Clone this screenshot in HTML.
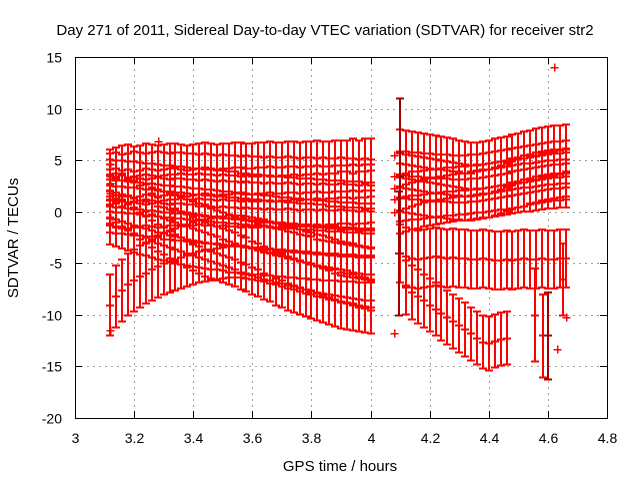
<!DOCTYPE html>
<html><head><meta charset="utf-8"><style>
body{margin:0;background:#fff}
svg{display:block;font-family:"Liberation Sans",sans-serif}
#marks line{shape-rendering:crispEdges}
#grid line,#ticks line{shape-rendering:crispEdges}
</style></head><body>
<svg id="chart" width="640" height="480" viewBox="0 0 640 480" xmlns="http://www.w3.org/2000/svg">
<rect x="0" y="0" width="640" height="480" fill="#fff"/>
<text x="325" y="35" font-size="15" text-anchor="middle">Day 271 of 2011, Sidereal Day-to-day VTEC variation (SDTVAR) for receiver str2</text>
<text x="340" y="471" font-size="15" text-anchor="middle">GPS time / hours</text>
<text x="18" y="238" font-size="15" text-anchor="middle" transform="rotate(-90 18 238)">SDTVAR / TECUs</text>
<g id="grid"></g>
<g id="marks"></g>
<rect x="75.5" y="57.5" width="532" height="361" fill="none" stroke="#000" stroke-width="1" shape-rendering="crispEdges"/>
<g id="ticks"></g>
</svg>
<script>
const xTicks=[3,3.2,3.4,3.6,3.8,4,4.2,4.4,4.6,4.8];
const xTickLabels=["3","3.2","3.4","3.6","3.8","4","4.2","4.4","4.6","4.8"];
const yTicks=[15,10,5,0,-5,-10,-15,-20];
const yTickLabels=["15","10","5","0","-5","-10","-15","-20"];

const leftStart=3.12, step=0.02;
const s1=[3.6,3.8,4.0,4.1,3.9,4.0,4.2,4.1,4.0,4.1,4.2,4.2,4.1,4.0,4.1,4.2,4.3,4.2,4.1,4.2,4.2,4.3,4.3,4.2,4.2,4.3,4.3,4.4,4.3,4.3,4.4,4.4,4.3,4.4,4.4,4.5,4.4,4.4,4.5,4.5,4.5,4.6,4.5,4.6,4.6];
const s2=[3.2,3.3,3.1,3.2,3.4,3.3,3.2,3.3,3.4,3.3,3.2,3.3,3.3,3.2,3.2,3.1,3.2,3.1,3.0,3.1,3.0,3.0,2.9,3.0,2.9,2.9,2.8,2.9,2.8,2.8,2.9,2.8,2.7,2.8,2.8,2.7,2.8,2.7,2.7,2.8,2.7,2.7,2.6,2.7,2.6];
const s3=[2.6,2.5,2.5,2.4,2.4,2.3,2.2,2.2,2.1,2.0,2.0,1.9,1.9,1.8,1.7,1.7,1.6,1.6,1.5,1.5,1.4,1.4,1.3,1.3,1.2,1.2,1.1,1.1,1.0,1.0,0.9,0.9,0.8,0.8,0.8,0.7,0.7,0.6,0.6,0.6,0.5,0.5,0.5,0.4,0.4];
const s4=[1.2,1.0,1.1,0.9,1.0,1.1,1.2,1.1,1.0,1.1,1.2,1.2,1.3,1.2,1.2,1.3,1.2,1.2,1.1,1.2,1.1,1.1,1.0,1.1,1.0,1.0,1.1,1.0,1.0,1.1,1.1,1.2,1.1,1.2,1.2,1.3,1.2,1.3,1.3,1.4,1.4,1.3,1.4,1.4,1.5];
const s5=[0.6,0.5,0.5,0.4,0.3,0.3,0.2,0.2,0.1,0.0,0.0,-0.1,-0.1,-0.2,-0.3,-0.3,-0.4,-0.4,-0.5,-0.6,-0.6,-0.7,-0.7,-0.8,-0.9,-0.9,-1.0,-1.0,-1.1,-1.2,-1.2,-1.3,-1.3,-1.4,-1.4,-1.5,-1.5,-1.6,-1.6,-1.7,-1.7,-1.7,-1.8,-1.8,-1.8];
const s6=[-0.5,-0.7,-0.9,-1.1,-1.3,-1.5,-1.6,-1.8,-2.0,-2.1,-2.3,-2.4,-2.5,-2.6,-2.7,-2.8,-2.9,-3.0,-3.0,-3.1,-3.2,-3.2,-3.3,-3.3,-3.4,-3.4,-3.5,-3.5,-3.6,-3.6,-3.7,-3.7,-3.8,-3.8,-3.9,-3.9,-4.0,-4.0,-4.0,-4.1,-4.1,-4.1,-4.2,-4.2,-4.2];
const s7=[1.5,1.2,1.0,0.8,0.5,0.3,0.1,-0.2,-0.4,-0.6,-0.8,-1.0,-1.2,-1.4,-1.6,-1.8,-2.0,-2.2,-2.4,-2.6,-2.8,-3.0,-3.2,-3.4,-3.5,-3.7,-3.9,-4.0,-4.2,-4.3,-4.5,-4.6,-4.8,-4.9,-5.0,-5.2,-5.3,-5.4,-5.5,-5.6,-5.7,-5.8,-5.9,-6.0,-6.0];
const s8=[2.0,1.6,1.2,0.8,0.4,0.0,-0.4,-0.8,-1.2,-1.5,-1.9,-2.2,-2.5,-2.8,-3.1,-3.3,-3.6,-3.8,-4.0,-4.2,-4.4,-4.6,-4.9,-5.1,-5.4,-5.6,-5.9,-6.1,-6.4,-6.6,-6.9,-7.1,-7.3,-7.5,-7.7,-7.9,-8.1,-8.3,-8.5,-8.7,-8.8,-8.9,-9.0,-9.1,-9.2];
const s9=[-9.0,-8.2,-7.6,-7.0,-6.6,-6.2,-5.9,-5.6,-5.3,-5.0,-4.8,-4.6,-4.4,-4.2,-4.0,-3.8,-3.7,-3.6,-3.5,-3.4,-3.3,-3.3,-3.3,-3.4,-3.5,-3.6,-3.7,-3.9,-4.0,-4.2,-4.4,-4.5,-4.7,-4.9,-5.0,-5.2,-5.3,-5.5,-5.6,-5.8,-5.9,-6.0,-6.2,-6.3,-6.5];
const leftSeries=[s1,s2,s3,s4,s5,s6,s7,s8,s9];
const leftErrs=[2.5,2.5,2.5,2.5,2.6,2.6,2.6,2.6,3.0];

const rightStart=4.10;
const r1=[5.7,5.6,5.5,5.4,5.3,5.2,5.1,5.0,4.9,4.8,4.7,4.6,4.5,4.5,4.6,4.7,4.8,4.9,5.0,5.2,5.3,5.5,5.6,5.8,5.9,6.0,6.1,6.1,6.2];
const r2=[3.6,3.6,3.5,3.5,3.4,3.4,3.3,3.3,3.3,3.2,3.2,3.2,3.3,3.3,3.4,3.5,3.6,3.7,3.8,3.9,4.0,4.1,4.2,4.3,4.4,4.5,4.6,4.6,4.7];
const r3=[2.4,2.3,2.2,2.1,2.0,1.9,1.8,1.8,1.7,1.6,1.6,1.5,1.5,1.6,1.7,1.8,2.0,2.2,2.4,2.6,2.8,2.9,3.1,3.2,3.4,3.5,3.6,3.7,3.8];
const r4=[1.4,1.5,1.6,1.6,1.7,1.8,1.8,1.9,2.0,2.0,2.1,2.1,2.2,2.3,2.3,2.4,2.5,2.6,2.6,2.7,2.8,2.9,3.0,3.1,3.2,3.3,3.4,3.4,3.5];
const r5=[0.2,0.4,0.6,0.7,0.9,1.0,1.1,1.2,1.3,1.4,1.5,1.5,1.6,1.7,1.8,1.8,1.9,2.0,2.1,2.2,2.3,2.4,2.4,2.5,2.6,2.7,2.7,2.8,2.8];
const r6=[-4.0,-4.3,-4.5,-4.6,-4.5,-4.4,-4.3,-4.4,-4.5,-4.4,-4.5,-4.5,-4.6,-4.6,-4.5,-4.6,-4.7,-4.7,-4.6,-4.7,-4.6,-4.5,-4.6,-4.6,-4.5,-4.6,-4.6,-4.5,-4.5];
const rightSeries=[r1,r2,r3,r4,r5,r6];
const rightErrs=[2.3,2.3,2.3,2.3,2.3,2.8];
const lowStart=4.12;
const r7=[-7.3,-7.8,-8.2,-8.6,-9.0,-9.4,-9.8,-10.2,-10.6,-11.0,-11.4,-11.8,-12.2,-12.6,-12.7,-12.5,-12.3,-12.2];
const r7Err=2.6;

const isoT=[4.10,4.095,4.585,4.60,4.555,4.65];
const isoV=[3.5,-4,-12,-12,-10,-6.5];
const isoE=[7.5,6,4,4.2,4.5,3.5];
const isoDark=[1,1,0,1,0,0];
const ptT=[3.12,3.12,3.12,3.12,3.12,3.12,3.28,4.08,4.08,4.08,4.08,4.08,4.08,4.62,4.63,4.66];
const ptV=[4.6,3.5,2.8,1.8,-0.5,-11.5,6.9,5.5,3.5,2.3,1.2,0,-11.8,14,-13.3,-10.2];

const X=t=>75+(t-3)*(532/1.8);
const Y=v=>211.7-v*(361/35);
const NS="http://www.w3.org/2000/svg";
const grid=document.getElementById('grid'), marks=document.getElementById('marks'), ticks=document.getElementById('ticks');
function ln(p,x1,y1,x2,y2,c,extra,w){const l=document.createElementNS(NS,'line');l.setAttribute('x1',x1);l.setAttribute('y1',y1);l.setAttribute('x2',x2);l.setAttribute('y2',y2);l.setAttribute('stroke',c);l.setAttribute('stroke-width',w||1);if(extra)l.setAttribute('stroke-dasharray',extra);p.appendChild(l);return l;}
function tx(p,x,y,s,anchor){const t=document.createElementNS(NS,'text');t.setAttribute('x',x);t.setAttribute('y',y);t.setAttribute('font-size',14);t.setAttribute('text-anchor',anchor);t.textContent=s;p.appendChild(t);return t;}
xTicks.forEach((t,i)=>{const x=Math.round(X(t))+0.5;
 if(i>0&&i<xTicks.length-1){const g=ln(grid,x,57,x,418,'#a0a0a0','2,4');}
 const a=ln(ticks,x,418,x,411,'#000');
 const b=ln(ticks,x,57,x,64,'#000');
 const l=tx(ticks,x,443,xTickLabels[i],'middle');});
yTicks.forEach((v,i)=>{const y=Math.round(Y(v))+0.5;
 if(i>0&&i<yTicks.length-1){const g=ln(grid,75,y,607,y,'#a0a0a0','2,4');}
 const a=ln(ticks,75,y,82,y,'#000');
 const b=ln(ticks,600,y,607,y,'#000');
 const l=tx(ticks,62,y+5,yTickLabels[i],'end');});
function bar(t,v,e,c){const g=document.createElementNS(NS,'g');
 
 
 const x=Math.round(X(t)),yc=Math.round(Y(v))+0.5,y1=Math.round(Y(v+e))+0.5,y2=Math.round(Y(v-e))+0.5;
 ln(g,x,y1,x,y2,c,null,2);ln(g,x-4,y1,x+4,y1,c,null,2);ln(g,x-4,y2,x+4,y2,c,null,2);
 ln(g,x-4,yc,x+4,yc,c,null,2);ln(g,x,yc-4,x,yc+4,c,null,2);marks.appendChild(g);}
function pt(t,v,c){const g=document.createElementNS(NS,'g');
 
 
 const x=Math.round(X(t))+0.5,y=Math.round(Y(v))+0.5;ln(g,x-4,y,x+4,y,c,null,1.5);ln(g,x,y-4,x,y+4,c,null,1.5);marks.appendChild(g);}
leftSeries.forEach((s,k)=>s.forEach((v,i)=>bar(leftStart+i*step,v,leftErrs[k],'#ff0000')));
rightSeries.forEach((s,k)=>s.forEach((v,i)=>bar(rightStart+i*step,v,rightErrs[k],'#ff0000')));
r7.forEach((v,i)=>bar(lowStart+i*step,v,r7Err,'#ff0000'));
isoT.forEach((t,i)=>bar(t,isoV[i],isoE[i],isoDark[i]?'#a00000':'#ff0000'));
ptT.forEach((t,i)=>pt(t,ptV[i],'#ff0000'));
</script>
</body></html>
